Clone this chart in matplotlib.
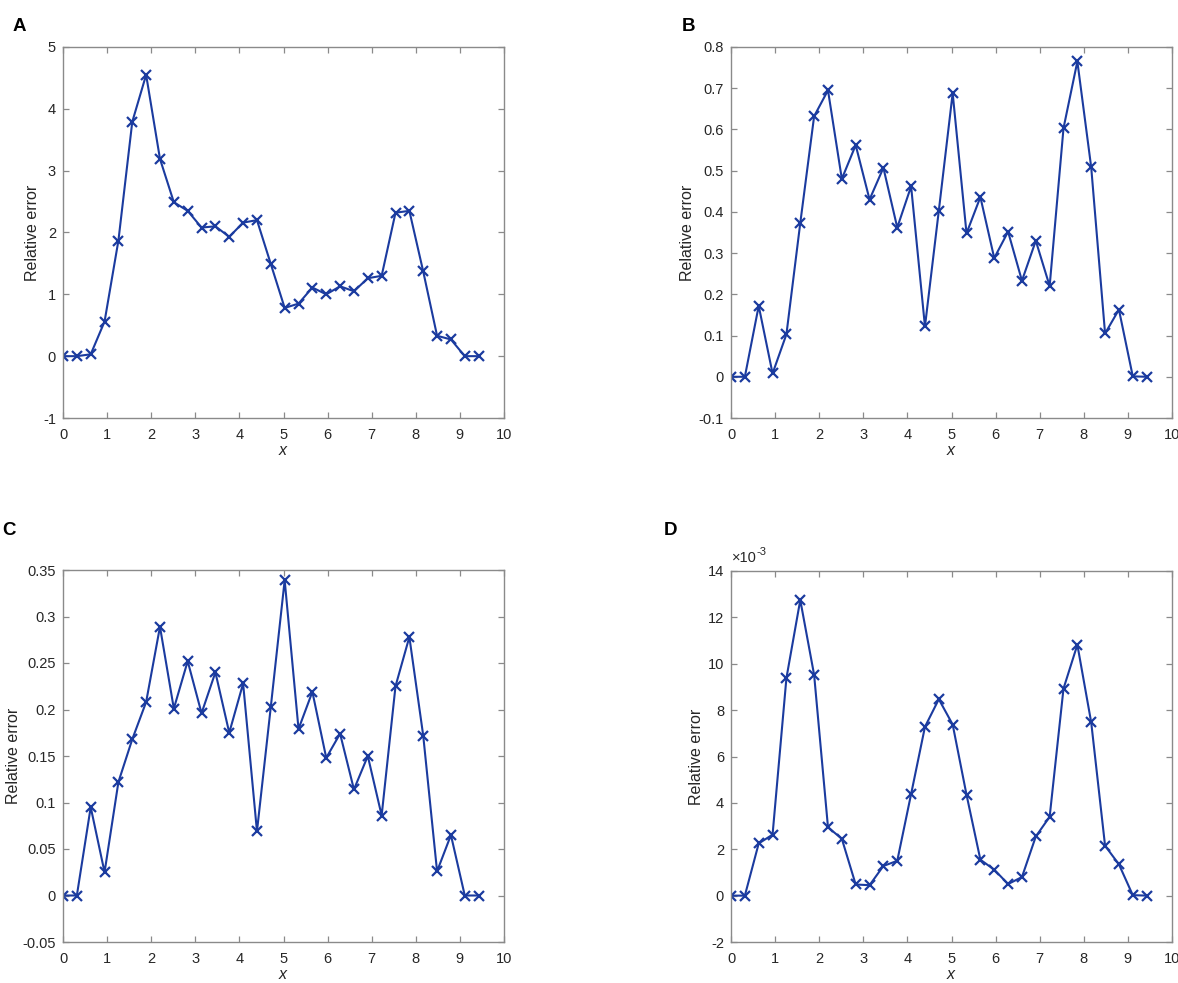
import numpy as np
import matplotlib
matplotlib.use('Agg')
import matplotlib.pyplot as plt

plt.rcParams['font.family'] = ['Liberation Sans', 'DejaVu Sans']
plt.rcParams['mathtext.fontset'] = 'custom'
plt.rcParams['mathtext.rm'] = 'Liberation Sans'
plt.rcParams['mathtext.it'] = 'Liberation Sans:italic'
plt.rcParams['axes.unicode_minus'] = False

# sample points x = k*pi/10, k = 0..30
x = np.arange(31) * np.pi / 10

err_a = [0, 0, 0.03, 0.56, 1.87, 3.79, 4.55, 3.19, 2.49, 2.35, 2.08, 2.10, 1.93,
         2.16, 2.20, 1.49, 0.78, 0.85, 1.11, 1.00, 1.13, 1.05, 1.26, 1.30, 2.32,
         2.35, 1.37, 0.33, 0.27, 0, 0]
err_b = [0, 0, 0.172, 0.008, 0.103, 0.373, 0.632, 0.695, 0.480, 0.562, 0.430,
         0.507, 0.362, 0.462, 0.122, 0.403, 0.688, 0.348, 0.436, 0.288, 0.352,
         0.233, 0.330, 0.220, 0.603, 0.765, 0.508, 0.105, 0.163, 0.001, 0]
err_c = [0, 0, 0.095, 0.025, 0.122, 0.168, 0.208, 0.289, 0.201, 0.252, 0.196,
         0.240, 0.175, 0.228, 0.069, 0.203, 0.339, 0.179, 0.219, 0.148, 0.174,
         0.114, 0.150, 0.086, 0.225, 0.278, 0.172, 0.026, 0.065, 0, 0]
# panel D in units of 1e-3
err_d = [0, 0, 2.25, 2.63, 9.38, 12.75, 9.52, 2.95, 2.45, 0.48, 0.45, 1.28, 1.50,
         4.38, 7.28, 8.47, 7.38, 4.35, 1.55, 1.12, 0.50, 0.80, 2.55, 3.40, 8.93,
         10.82, 7.47, 2.15, 1.35, 0.02, 0]

panels = [
    ('A', err_a, 1.0, (-1, 5), np.arange(-1, 5.1, 1)),
    ('B', err_b, 1.0, (-0.1, 0.8), np.arange(-0.1, 0.81, 0.1)),
    ('C', err_c, 1.0, (-0.05, 0.35), np.arange(-0.05, 0.351, 0.05)),
    ('D', err_d, 1e-3, (-2e-3, 14e-3), np.arange(-2, 14.1, 2) * 1e-3),
]

W, H = 1178, 983
fig = plt.figure(figsize=(W / 100, H / 100), dpi=100)

# axes boxes in pixels: left, top, right, bottom
boxes = [(63, 47, 504, 418), (731, 47, 1172, 418),
         (63, 570, 504, 942), (731, 571, 1172, 942)]
letter_pos = [(13, 31), (682, 31), (2, 535), (664, 535)]
ylab_x = [40, 695, 21, 704]  # right edge of rotated y label

line_col = '#1b3b9f'
spine_col = '#8a8a8a'
text_col = '#262626'

for (name, vals, scale, ylim, yticks), (l, t, r, b), (lx, ly), yx in zip(
        panels, boxes, letter_pos, ylab_x):
    ax = fig.add_axes([l / W, 1 - b / H, (r - l) / W, (b - t) / H])
    ax.plot(x, np.array(vals) * scale, color=line_col, lw=1.5, marker='x',
            ms=6.5, mew=1.6)
    ax.set_xlim(0, 10)
    ax.set_ylim(*ylim)
    ax.set_xticks(np.arange(0, 11, 1))
    ax.set_yticks(yticks)
    ax.set_yticklabels(['%g' % round(v / scale, 3) for v in yticks])
    if name == 'D':
        # exponent label like matlab
        ax.annotate('×10', xy=(0, 1), xycoords='axes fraction',
                    xytext=(1, 4), textcoords='offset points',
                    fontsize=10.5, color=text_col, va='bottom', ha='left')
        ax.annotate('-3', xy=(0, 1), xycoords='axes fraction',
                    xytext=(18.5, 10), textcoords='offset points',
                    fontsize=8, color=text_col, va='bottom', ha='left')
    ax.tick_params(direction='in', length=4, width=0.9, color=spine_col,
                   labelsize=10.5, labelcolor=text_col, top=True, right=True)
    ax.tick_params(axis='x', pad=7)
    ax.tick_params(axis='y', pad=5)
    for s in ax.spines.values():
        s.set_color(spine_col)
        s.set_linewidth(1.0)
    ax.set_xlabel('$x$', fontsize=11.5, color=text_col, labelpad=1)
    ax.set_ylabel('Relative error', fontsize=11.5, color=text_col)
    ax.yaxis.set_label_coords((yx - l) / (r - l), 0.5)
    fig.text(lx / W, 1 - ly / H, name, fontsize=13.5, fontweight='bold',
             color='black')

fig.savefig('out.png', dpi=100)
